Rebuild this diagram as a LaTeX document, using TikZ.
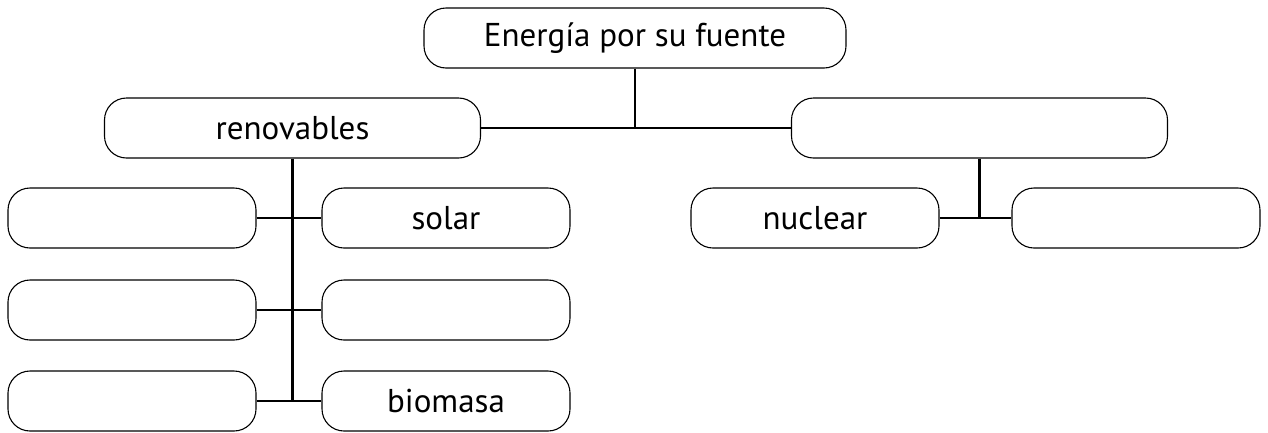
\documentclass[tikz,border=0pt]{standalone}
\usepackage{fontspec}
\setmainfont{PT Sans}
\usepackage{tikz}
\usetikzlibrary{calc}
\usetikzlibrary{positioning}

\begin{document}
\begin{tikzpicture}[x=1pt,y=-1pt,
		caja/.style={draw,line width=1.1pt,rounded corners=22pt,minimum width=248pt,minimum height=60pt,inner sep=0pt,font=\fontsize{33}{38}\selectfont},
		cajagrande/.style={caja,minimum width=376pt},
		enlace/.style={line width=2.4pt}]
		\useasboundingbox (0,0) rectangle (1268,432);
		\node[caja,minimum width=422pt] (fuente) at (635,38) {Energía por su fuente};
		\node[cajagrande] (renov) at (292.5,128) {renovables};
		\node[cajagrande] (norenov) at (979.5,128) {};
		\node[caja] (izq1) at (132,218) {};
		\node[caja] (izq2) at (132,310) {};
		\node[caja] (izq3) at (132,401) {};
		\node[caja] (der1) at (446,218) {solar};
		\node[caja] (der2) at (446,310) {};
		\node[caja] (der3) at (446,401) {biomasa};
		\node[caja] (nuclear) at (815,218) {nuclear};
		\node[caja] (otra) at (1136,218) {};
		\draw[enlace] (fuente.south) -- (fuente.south |- renov.east);
		\draw[enlace] (renov.east) -- (norenov.west);
		\draw[enlace] (renov.south) -- (renov.south |- izq3.east);
		\draw[enlace] (izq1.east) -- (der1.west);
		\draw[enlace] (izq2.east) -- (der2.west);
		\draw[enlace] (izq3.east) -- (der3.west);
		\draw[enlace] (norenov.south) -- (norenov.south |- nuclear.east);
		\draw[enlace] (nuclear.east) -- (otra.west);
	\end{tikzpicture}
\end{document}
